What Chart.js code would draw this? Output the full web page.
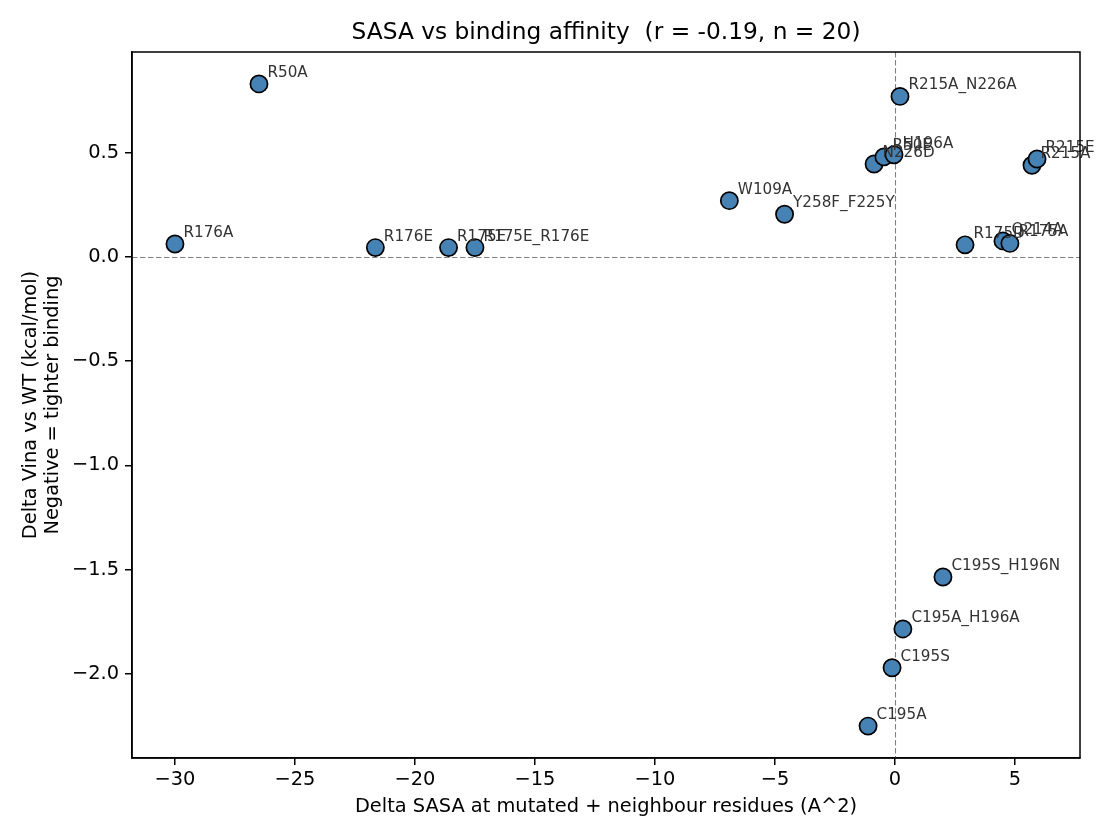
<!DOCTYPE html>
<html>
<head>
<meta charset="utf-8">
<script src="https://cdn.jsdelivr.net/npm/chart.js@4.4.1/dist/chart.umd.min.js"></script>
<style>
html,body{margin:0;padding:0;background:#fff;}
#wrap{width:1120px;height:840px;position:relative;}
</style>
</head>
<body>
<div id="wrap"><canvas id="c" width="1120" height="840"></canvas></div>
<script>
const mutants = ["R50A","R176A","R176E","R175E","R175E_R176E","W109A","Y258F_F225Y","R215A_N226A","N226D","R50E","H196A","R215A","R215E","R175D","Q214A","R175A","C195S_H196N","C195A_H196A","C195S","C195A"];
const deltaSasa = [-26.5,-30.0,-21.65,-18.6,-17.5,-6.9,-4.6,0.21,-0.87,-0.46,-0.04,5.71,5.92,2.92,4.5,4.79,2.0,0.33,-0.12,-1.12];
const deltaVina = [0.83,0.062,0.045,0.045,0.045,0.27,0.205,0.77,0.446,0.48,0.49,0.44,0.47,0.058,0.077,0.065,-1.535,-1.784,-1.97,-2.25];
const xTicks = [-30,-25,-20,-15,-10,-5,0,5];
const yTicks = [-2.0,-1.5,-1.0,-0.5,0.0,0.5];
const xRange = [-31.79, 7.71];
const yRange = [-2.403, 0.983];
const titleText = "SASA vs binding affinity  (r = -0.19, n = 20)";
const xTitle = "Delta SASA at mutated + neighbour residues (A^2)";
const yTitle = ["Delta Vina vs WT (kcal/mol)", "Negative = tighter binding"];

const FONT = "'DejaVu Sans', sans-serif";
const fmtY = v => (v < 0 ? "\u2212" : "") + Math.abs(v).toFixed(1);
const fmtX = v => (v < 0 ? "\u2212" : "") + Math.abs(v).toString();

const extras = {
  id: 'extras',
  beforeDatasetsDraw(chart) {
    const {ctx, chartArea: a, scales: {x, y}} = chart;
    ctx.save();
    ctx.strokeStyle = '#808080';
    ctx.lineWidth = 1.1;
    ctx.setLineDash([5.5, 2.5]);
    const x0 = Math.round(x.getPixelForValue(0)) + 0.5;
    const y0 = Math.round(y.getPixelForValue(0)) + 0.5;
    ctx.beginPath(); ctx.moveTo(x0, a.top); ctx.lineTo(x0, a.bottom); ctx.stroke();
    ctx.beginPath(); ctx.moveTo(a.left, y0); ctx.lineTo(a.right, y0); ctx.stroke();
    ctx.restore();
  },
  afterDatasetsDraw(chart) {
    const {ctx, chartArea: a, scales: {x, y}} = chart;
    ctx.save();
    ctx.font = "15.2px " + FONT;
    ctx.fillStyle = '#333333';
    ctx.textBaseline = 'alphabetic';
    ctx.textAlign = 'left';
    mutants.forEach((m, i) => {
      const px = x.getPixelForValue(deltaSasa[i]);
      const py = y.getPixelForValue(deltaVina[i]);
      ctx.fillText(m, px + 8.5, py - 7);
    });
    ctx.strokeStyle = '#000';
    ctx.lineWidth = 1.5;
    ctx.setLineDash([]);
    ctx.strokeRect(a.left, a.top, a.right - a.left, a.bottom - a.top);
    // title
    ctx.font = "23.3px " + FONT;
    ctx.fillStyle = '#000';
    ctx.textAlign = 'center';
    ctx.textBaseline = 'middle';
    ctx.fillText(titleText, (a.left + a.right) / 2, 33);
    // x title
    ctx.font = "19.4px " + FONT;
    ctx.fillText(xTitle, (a.left + a.right) / 2, 807);
    // y title
    const cy = (a.top + a.bottom) / 2;
    ctx.save();
    ctx.translate(31, cy);
    ctx.rotate(-Math.PI / 2);
    ctx.fillText(yTitle[0], 0, 0);
    ctx.restore();
    ctx.save();
    ctx.translate(53, cy);
    ctx.rotate(-Math.PI / 2);
    ctx.fillText(yTitle[1], 0, 0);
    ctx.restore();
    ctx.restore();
  }
};

new Chart(document.getElementById('c'), {
  type: 'scatter',
  data: {
    datasets: [{
      data: deltaSasa.map((v, i) => ({x: v, y: deltaVina[i]})),
      backgroundColor: '#4682b4',
      borderColor: '#000000',
      borderWidth: 1.7,
      pointRadius: 8.6,
      pointHoverRadius: 8.6
    }]
  },
  options: {
    responsive: false,
    animation: false,
    events: [],
    layout: {padding: {left: 0, top: 52, right: 40, bottom: 0}},
    plugins: {legend: {display: false}, tooltip: {enabled: false}, title: {display: false}},
    scales: {
      x: {
        type: 'linear', min: xRange[0], max: xRange[1],
        afterBuildTicks: s => { s.ticks = xTicks.map(v => ({value: v})); },
        afterFit: s => { s.height = 82; },
        ticks: {callback: v => fmtX(v), color: '#000', font: {family: FONT, size: 19.4}, padding: 3, maxRotation: 0, autoSkip: false},
        grid: {display: true, drawOnChartArea: false, drawTicks: true, tickLength: 7, lineWidth: 1.5, color: '#000'},
        border: {display: true, color: '#000', width: 1.5},
        title: {display: false}
      },
      y: {
        type: 'linear', min: yRange[0], max: yRange[1],
        afterBuildTicks: s => { s.ticks = yTicks.map(v => ({value: v})); },
        afterFit: s => { s.width = 132; },
        ticks: {callback: v => fmtY(v), color: '#000', font: {family: FONT, size: 19.4}, padding: 6, autoSkip: false},
        grid: {display: true, drawOnChartArea: false, drawTicks: true, tickLength: 7, lineWidth: 1.5, color: '#000'},
        border: {display: true, color: '#000', width: 1.5},
        title: {display: false}
      }
    }
  },
  plugins: [extras]
});
</script>
</body>
</html>
